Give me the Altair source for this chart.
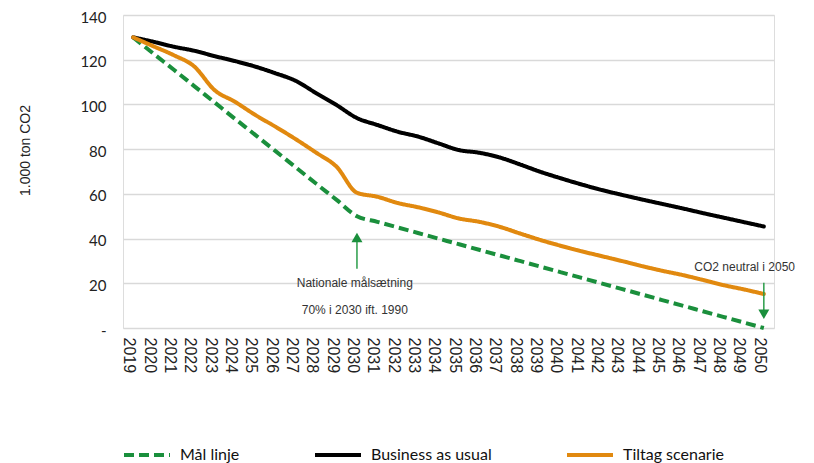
import altair as alt
import pandas as pd

years = [str(y) for y in range(2019, 2051)]
maal_linje = [130, 122.7, 115.5, 108.2, 100.9, 93.6, 86.4, 79.1, 71.8, 64.5, 57.3, 50,
              47.5, 45, 42.5, 40, 37.5, 35, 32.5, 30, 27.5, 25, 22.5, 20, 17.5, 15,
              12.5, 10, 7.5, 5, 2.5, 0]
business_as_usual = [130, 128, 125.8, 124, 121.6, 119.4, 116.9, 113.9, 110.5, 105, 99.7, 93.9,
                     90.8, 87.8, 85.6, 82.6, 79.6, 78.4, 76.3, 73.2, 69.9, 67, 64.3, 61.8,
                     59.6, 57.5, 55.5, 53.5, 51.4, 49.4, 47.4, 45.4]
tiltag_scenarie = [130, 126, 122, 117, 106.4, 101.2, 95.3, 90, 84.4, 78.4, 72.1, 60.5,
                   58.7, 55.9, 54, 51.7, 49, 47.5, 45.3, 42.3, 39.4, 36.8, 34.4, 32.2,
                   30, 27.7, 25.6, 23.7, 21.5, 19.2, 17.3, 15.2]

series_names = ["Mål linje", "Business as usual", "Tiltag scenarie"]
series_colors = ["#1A8F3C", "#000000", "#E1890F"]
series_dash = [[10, 5], [1, 0], [1, 0]]
y_ticks = [0, 20, 40, 60, 80, 100, 120, 140]

# annotations
ann_years = ["2030", "2030", "2050"]
ann_values = [20.2, 8.2, 27.5]
ann_texts = ["Nationale målsætning", "70% i 2030 ift. 1990", "CO2 neutral i 2050"]
ann_dx = [8, 8, -9]

arrow_years = ["2030", "2050"]
arrow_from = [26.5, 20.2]
arrow_to = [40.0, 7.0]
arrow_head = [40.5, 6.2]
arrow_shape = ["triangle-up", "triangle-down"]

rows = []
for name, vals in zip(series_names, [maal_linje, business_as_usual, tiltag_scenarie]):
    for y, v in zip(years, vals):
        rows.append({"year": y, "value": v, "series": name})
df = pd.DataFrame(rows)

ann_df = pd.DataFrame({"year": ann_years, "value": ann_values, "text": ann_texts, "dx": ann_dx})
arr_df = pd.DataFrame({"year": arrow_years, "y1": arrow_from, "y2": arrow_to,
                       "head": arrow_head, "shape": arrow_shape})

x_enc = alt.X("year:O", sort=years, title=None,
              axis=alt.Axis(labelAngle=90, labelAlign="left", labelBaseline="middle",
                            labelPadding=9, labelOffset=-4, labelFont="Liberation Sans",
                            labelFontSize=16, labelColor="#222222", domain=False, ticks=False,
                            grid=False))
y_scale = alt.Scale(domain=[0, 140], nice=False)
y_enc = alt.Y("value:Q", scale=y_scale, title="1.000 ton CO2",
              axis=alt.Axis(values=y_ticks, grid=True, gridColor="#D9D9D9", gridWidth=1.5,
                            domain=False, ticks=False, labelPadding=17, labelFont="Lato",
                            labelFontSize=15, labelColor="#222222", labelOffset=2,
                            labelExpr="datum.value == 0 ? '-' : datum.label",
                            titleFont="Liberation Sans", titleFontSize=14,
                            titleFontWeight="normal", titleColor="#222222",
                            titleX=-91, titleY=135))

legend_cfg = alt.Legend(title=None, orient="none", direction="horizontal",
                        legendX=-1, legendY=415, symbolType="stroke",
                        symbolStrokeWidth=4, symbolSize=2116, labelFont="Lato",
                        labelFontSize=16, labelColor="#111111", labelOffset=8,
                        columnPadding=67)

color_enc = alt.Color("series:N", scale=alt.Scale(domain=series_names, range=series_colors),
                      legend=legend_cfg)
dash_enc = alt.StrokeDash("series:N", scale=alt.Scale(domain=series_names, range=series_dash),
                          legend=legend_cfg)

base = alt.Chart(df)
solid = base.transform_filter(alt.datum.series != "Mål linje").mark_line(
    strokeWidth=4, interpolate="monotone", strokeCap="round").encode(
    x=x_enc, y=y_enc, color=color_enc, strokeDash=dash_enc)
dashed = base.transform_filter(alt.datum.series == "Mål linje").mark_line(
    strokeWidth=4, interpolate="monotone").encode(
    x=x_enc, y=y_enc, color=color_enc, strokeDash=dash_enc)

arrow_rule = alt.Chart(arr_df).mark_rule(color="#2A9D49", strokeWidth=1.5).encode(
    x=alt.X("year:O", sort=years), y=alt.Y("y1:Q", scale=y_scale), y2="y2:Q")
arrow_tri = alt.Chart(arr_df).mark_point(filled=True, color="#1A8F3C", size=121, opacity=1).encode(
    x=alt.X("year:O", sort=years), y=alt.Y("head:Q", scale=y_scale),
    shape=alt.Shape("shape:N", scale=None, legend=None))

ann_nat = alt.Chart(ann_df).mark_text(font="Liberation Sans", fontSize=12, color="#333333",
                                      align="center", baseline="middle").encode(
    x=alt.X("year:O", sort=years), y=alt.Y("value:Q", scale=y_scale), text="text:N",
    xOffset=alt.XOffset("dx:Q", scale=None))

chart = alt.layer(dashed, solid, arrow_rule, arrow_tri, ann_nat).properties(
    width=651, height=313,
    autosize=alt.AutoSizeParams(type="none"),
    padding={"left": 115, "top": 7, "right": 32, "bottom": 135},
).configure_view(stroke=None).configure(background="white")

chart.save("out.html", embed_options={"renderer": "svg", "actions": False})
